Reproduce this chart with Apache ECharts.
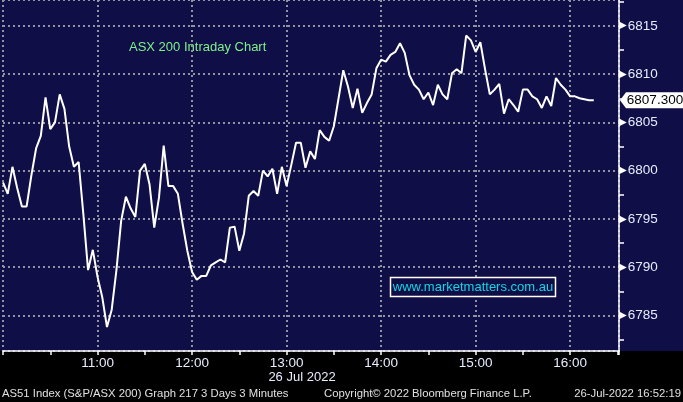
<!DOCTYPE html>
<html>
<head>
<meta charset="utf-8">
<script src="https://cdn.jsdelivr.net/npm/echarts@6/dist/echarts.min.js"></script>
<style>
html,body{margin:0;padding:0;background:#000;}
#chart{width:683px;height:402px;}
</style>
</head>
<body>
<div id="chart"></div>
<script>
// Data: ASX 200 (AS51) intraday, 3-minute bars, 26 Jul 2022, starting 10:00
const startMinute = 600; // 10:00
const stepMinutes = 3;
const prices = [
  6798.8, 6797.6, 6800.4, 6798.2, 6796.3, 6796.3, 6799.5, 6802.3, 6803.6, 6807.6,
  6804.3, 6805.0, 6807.9, 6806.4, 6802.5, 6800.4, 6800.9, 6795.5, 6789.7, 6791.8,
  6789.0, 6786.9, 6783.8, 6785.6, 6789.7, 6794.8, 6797.3, 6796.1, 6795.2, 6800.0,
  6800.7, 6798.6, 6794.1, 6797.2, 6802.6, 6798.4, 6798.4, 6797.6, 6794.5, 6791.7,
  6789.5, 6788.7, 6789.1, 6789.1, 6790.2, 6790.5, 6790.8, 6790.5, 6794.1, 6794.2,
  6791.7, 6793.5, 6797.4, 6797.9, 6797.4, 6800.0, 6799.4, 6800.2, 6797.6, 6800.4,
  6798.4, 6800.6, 6802.9, 6802.9, 6800.3, 6802.0, 6801.2, 6804.2, 6803.5, 6803.1,
  6804.6, 6807.5, 6810.4, 6808.7, 6806.5, 6808.5, 6806.0, 6807.0, 6807.9, 6810.6,
  6811.5, 6811.3, 6812.0, 6812.3, 6813.2, 6812.2, 6809.9, 6808.9, 6808.4, 6807.4,
  6808.1, 6806.8, 6808.9, 6807.9, 6807.4, 6810.1, 6810.5, 6810.1, 6814.0, 6813.5,
  6812.3, 6813.3, 6810.5, 6807.9, 6808.4, 6809.0, 6805.9, 6807.4, 6806.8, 6806.1,
  6808.4, 6808.4, 6807.7, 6807.4, 6806.5, 6807.7, 6806.7, 6809.6, 6808.9, 6808.4,
  6807.7, 6807.7, 6807.5, 6807.4, 6807.3, 6807.3
];
const lastPrice = 6807.3;
const hourLabels = ['11:00', '12:00', '13:00', '14:00', '15:00', '16:00'];
const dateLabel = '26 Jul 2022';
const titleText = 'ASX 200 Intraday Chart';
const watermark = 'www.marketmatters.com.au';
const footerLeft = 'AS51 Index (S&P/ASX 200) Graph 217 3 Days 3 Minutes';
const footerMid = 'Copyright\u00A9 2022 Bloomberg Finance L.P.';
const footerRight = '26-Jul-2022 16:52:19';

const seriesData = prices.map((v, i) => [startMinute + i * stepMinutes, v]);
const hourLabelMap = {};
hourLabels.forEach(h => { hourLabelMap[parseInt(h, 10) * 60] = h; });

const NAVY = '#100e46';
const GRID = '#9292a0';
const FONT = '"Liberation Sans", Arial, sans-serif';

const chart = echarts.init(document.getElementById('chart'), null, {renderer: 'canvas'});
chart.setOption({
  backgroundColor: '#000000',
  animation: false,
  graphic: [
    {type: 'rect', z: -10, silent: true, shape: {x: 0, y: 0, width: 683, height: 351}, style: {fill: NAVY}},
    {type: 'text', left: 129, top: 41, style: {text: titleText, fill: '#7ef08a', font: '13px ' + FONT}},
    {type: 'rect', z: 50, shape: {x: 390.5, y: 277.5, width: 165, height: 19}, style: {fill: NAVY, stroke: '#ffffff', lineWidth: 1.5}},
    {type: 'text', z: 51, x: 473, y: 287, style: {text: watermark, fill: '#10d6e6', font: '13px ' + FONT, textAlign: 'center', textVerticalAlign: 'middle'}},
    {type: 'text', x: 302, y: 377, style: {text: dateLabel, fill: '#e6ecff', font: '13px ' + FONT, textAlign: 'center', textVerticalAlign: 'middle'}},
    {type: 'text', x: 2, y: 394, style: {text: footerLeft, fill: '#e0e0e0', font: '11.3px ' + FONT, textAlign: 'left', textVerticalAlign: 'middle'}},
    {type: 'text', x: 324, y: 394, style: {text: footerMid, fill: '#e0e0e0', font: '11.3px ' + FONT, textAlign: 'left', textVerticalAlign: 'middle'}},
    {type: 'text', x: 681, y: 394, style: {text: footerRight, fill: '#e0e0e0', font: '11.3px ' + FONT, textAlign: 'right', textVerticalAlign: 'middle'}}
  ],
  grid: {left: 0, right: 64, top: -2, bottom: 51, containLabel: false},
  xAxis: {
    type: 'value',
    min: 600,
    max: 991,
    interval: 60,
    axisLine: {show: true, lineStyle: {color: '#ffffff', width: 1.5}},
    axisTick: {show: true, length: 4, lineStyle: {color: '#ffffff', width: 1.5}},
    minorTick: {show: true, splitNumber: 2, length: 4, lineStyle: {color: '#ffffff', width: 1.5}},
    splitLine: {show: true, lineStyle: {color: GRID, width: 2, type: [2, 3]}},
    axisLabel: {
      margin: 5,
      color: '#e6ecff',
      fontFamily: FONT,
      fontSize: 13.5,
      formatter: v => hourLabelMap[v] || ''
    }
  },
  yAxis: {
    type: 'value',
    position: 'right',
    min: 6781.32,
    max: 6817.68,
    splitNumber: 7,
    minInterval: 5,
    maxInterval: 5,
    axisLine: {show: true, lineStyle: {color: '#ffffff', width: 1.5}},
    axisTick: {show: false},
    minorTick: {show: true, splitNumber: 2, length: 5, lineStyle: {color: '#ffffff', width: 1.5}},
    splitLine: {show: true, lineStyle: {color: GRID, width: 2, type: [2, 3]}},
    axisLabel: {
      margin: 0,
      showMinLabel: false,
      showMaxLabel: false,
      formatter: v => (v % 5 === 0 ? '{a|\u25B6}{b|' + v + '}' : ''),
      rich: {
        a: {color: '#ffffff', fontSize: 10, fontFamily: '"DejaVu Sans"', padding: [0, 1, 0, 0]},
        b: {color: '#e6ecff', fontSize: 13.5, fontFamily: FONT}
      }
    }
  },
  series: [{
    type: 'line',
    data: seriesData,
    showSymbol: false,
    lineStyle: {color: '#ffffff', width: 2},
    z: 5,
    markPoint: {
      silent: true,
      symbol: 'path://M0,8 L6,0 L64,0 L64,16 L6,16 Z',
      symbolSize: [64, 16],
      symbolOffset: [33, 0],
      symbolKeepAspect: false,
      itemStyle: {color: '#ffffff'},
      label: {
        show: true,
        position: 'inside',
        offset: [3, 0],
        color: '#000000',
        fontFamily: FONT,
        fontSize: 13.5,
        formatter: p => p.value.toFixed(3)
      },
      data: [{coord: [991, lastPrice], value: lastPrice}]
    }
  }]
});
</script>
</body>
</html>
